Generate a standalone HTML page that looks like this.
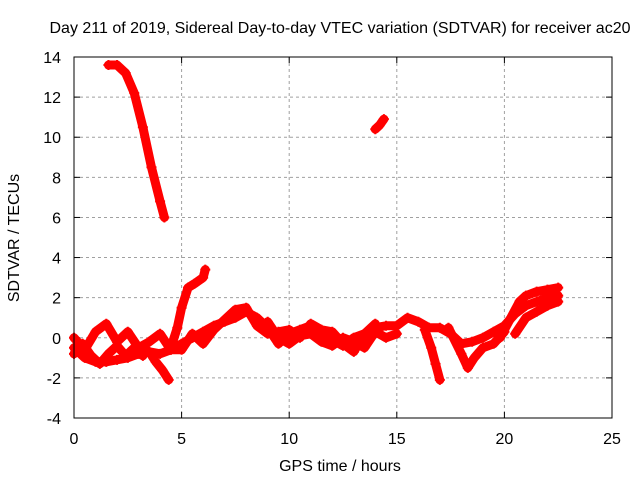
<!DOCTYPE html>
<html><head><meta charset="utf-8"><style>
body{margin:0;background:#fff}
svg{font-family:"Liberation Sans",sans-serif;font-size:16px}
</style></head><body>
<svg id="c" width="640" height="480">
<text x="340" y="33" text-anchor="middle">Day 211 of 2019, Sidereal Day-to-day VTEC variation (SDTVAR) for receiver ac20</text>
<text x="340" y="471" text-anchor="middle">GPS time / hours</text>
<text transform="translate(19,238) rotate(-90)" text-anchor="middle">SDTVAR / TECUs</text>
<g id="grid"></g>
<g id="marks"></g>
<rect x="74" y="57" width="538" height="361" fill="none" stroke="#000"/>
</svg>
<script>
const xTicks=[0,5,10,15,20,25];
const yTicks=[-4,-2,0,2,4,6,8,10,12,14];
const trackAx=[0,0.5,1,1.5,2,2.5,3,3.5,4,4.5,5,5.5,6,6.5,7,7.5,8,8.5,9,9.5,10,10.5,11,11.5,12,12.5,13,13.5,14,14.5,15,15.5,16,16.5,17,17.5,18,18.5,19,19.5,20,20.5,21,21.5,22,22.5];
const trackAy=[-0.5,-1,-1.2,-1.2,-1.1,-1,-0.8,-0.7,-0.8,-0.6,-0.3,0,0.3,0.6,0.8,1.0,1.3,1.0,0.5,-0.3,0.2,0.4,0.6,0.3,-0.1,-0.4,0,0.2,0.5,0.6,0.6,1.0,0.8,0.5,0.5,0.2,-0.3,-0.2,0,0.3,0.6,1.2,1.6,1.8,2.0,2.1];
const trackBx=[0,0.5,1,1.5,2,2.5,3,3.5,4,4.5,5,5.5,6,6.5,7,7.5,8,8.5,9,9.5,10,10.5,11,11.5,12,12.5,13,13.5,14];
const trackBy=[0,-0.6,0.3,0.7,-0.2,0.3,-0.5,-0.2,0.2,-0.6,-0.6,0.2,-0.3,0.4,0.9,1.4,1.5,0.6,0.2,0.3,0.4,0.0,0.7,0.4,0.3,-0.3,-0.7,0.2,0.7];
const trackCx=[4.5,4.8,5,5.3,5.6,6,6.1];
const trackCy=[-0.5,0.5,1.5,2.5,2.7,3.0,3.4];
const trackDx=[16.3,16.6,16.8,17];
const trackDy=[0.4,-0.5,-1.3,-2.1];
const trackEx=[19.8,20.3,20.7,21,21.5,22,22.5];
const trackEy=[0,1,1.8,2.1,2.3,2.4,2.5];
const trackFx=[1.6,2,2.4,2.8,3.2,3.6,4,4.2];
const trackFy=[13.6,13.6,13.2,12.2,10.5,8.5,6.8,6.0];
const trackGx=[14,14.2,14.4];
const trackGy=[10.4,10.6,10.9];
const trackHx=[17.4,18,18.3,18.6,19,19.5,20];
const trackHy=[0.5,-0.8,-1.5,-1.0,-0.5,-0.3,0.3];
const trackIx=[3.5,3.8,4.1,4.4];
const trackIy=[-0.7,-1.2,-1.6,-2.1];
const trackJx=[20.5,21,21.5,22,22.5];
const trackJy=[0.2,1.0,1.3,1.6,1.8];
const trackKx=[0,0.4,0.8,1.2,1.6,2,2.4,2.8,3.2];
const trackKy=[-0.8,-0.3,-0.9,-1.3,-0.8,-0.4,-0.9,-0.5,-0.9];
const trackLx=[9,9.5,10,10.5,11,11.5,12,12.5,13,13.5,14,14.5,15];
const trackLy=[0.8,0.0,-0.3,0.1,0.2,-0.2,-0.4,0.0,-0.2,-0.5,0.3,0.0,0.2];
const tracks=[[trackAx,trackAy],[trackBx,trackBy],[trackCx,trackCy],[trackDx,trackDy],[trackEx,trackEy],[trackFx,trackFy],[trackGx,trackGy],[trackHx,trackHy],[trackIx,trackIy],[trackJx,trackJy],[trackKx,trackKy],[trackLx,trackLy]];
const X=v=>74+v*538/25, Y=v=>418-(v+4)*361/18;
const NS="http://www.w3.org/2000/svg";
const grid=document.getElementById('grid'), svg=document.getElementById('c'), marks=document.getElementById('marks');
function mk(t,a,p){const e=document.createElementNS(NS,t);for(const k in a)e.setAttribute(k,a[k]);p.appendChild(e);return e;}
xTicks.forEach(t=>{const x=X(t);
 if(t>0&&t<25){const l=mk('line',{x1:x,x2:x,y1:57,y2:418,stroke:'#a0a0a0','stroke-dasharray':'3,3'},grid);
 
 }
 mk('line',{x1:x,x2:x,y1:418,y2:412,stroke:'#000'},grid);mk('line',{x1:x,x2:x,y1:57,y2:63,stroke:'#000'},grid);
 const tx=mk('text',{x:x,y:444,'text-anchor':'middle'},svg);tx.textContent=t;
 
 });
yTicks.forEach(t=>{const y=Y(t);
 if(t>-4&&t<14){const l=mk('line',{x1:74,x2:612,y1:y,y2:y,stroke:'#a0a0a0','stroke-dasharray':'3,3'},grid);
 
 }
 mk('line',{x1:74,x2:80,y1:y,y2:y,stroke:'#000'},grid);mk('line',{x1:612,x2:606,y1:y,y2:y,stroke:'#000'},grid);
 const tx=mk('text',{x:61,y:y+6,'text-anchor':'end'},svg);tx.textContent=t;
 
 });
tracks.forEach(([xs,ys])=>{
 const pts=xs.map((x,i)=>X(x)+','+Y(ys[i])).join(' ');
 const pl=mk('polyline',{points:pts,fill:'none',stroke:'#ff0000','stroke-width':9,'stroke-linejoin':'round','stroke-linecap':'round'},marks);
 
 
 xs.forEach((x,i)=>{const cx=X(x),cy=Y(ys[i]);
  const p=mk('path',{d:`M${cx-5},${cy}h10M${cx},${cy-5}v10`,stroke:'#ff0000','stroke-width':2},marks);
  
  });
});
</script>
</body></html>
